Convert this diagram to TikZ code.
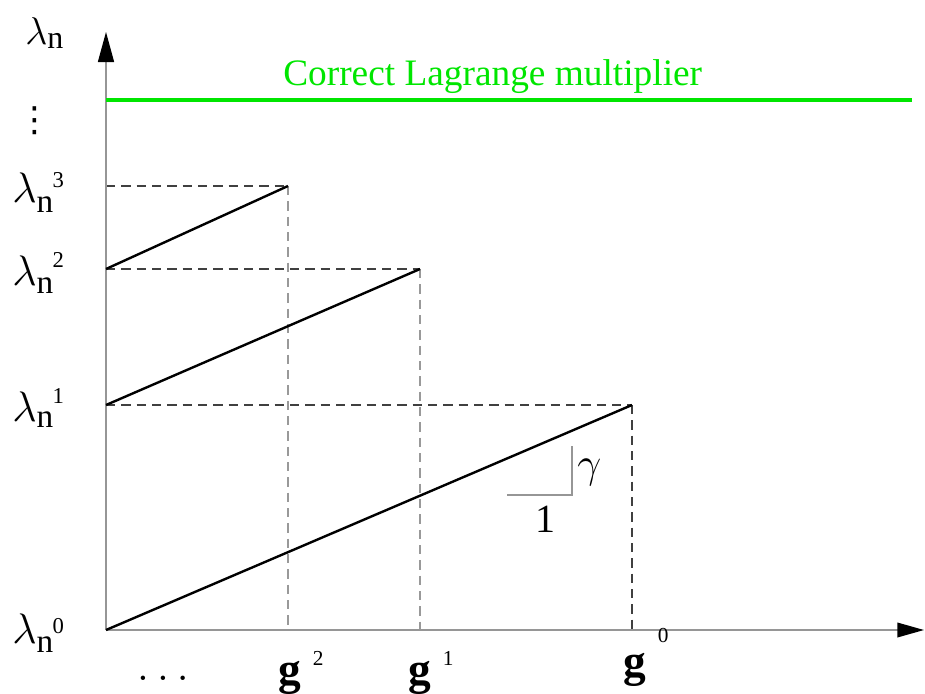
\RequirePackage{fix-cm}
\documentclass[tikz,border=0pt]{standalone}
\usepackage{fontspec}
\setmainfont{Liberation Serif}
\newfontfamily\dejavu{DejaVu Sans}
\usetikzlibrary{arrows.meta}
\definecolor{lgreen}{RGB}{0,230,0}
\definecolor{axisgray}{RGB}{150,150,150}
\newcommand{\lamlab}[3]{{\fontsize{32}{32}\selectfont$\lambda$}\raisebox{#2}{\fontsize{25}{25}\selectfont n}\kern-0.5pt\raisebox{#3}{\fontsize{17}{17}\selectfont #1}}
\newcommand{\glab}[2]{{\fontsize{34}{34}\selectfont\bfseries g}\kern 9pt\raisebox{#2}{\fontsize{16}{16}\selectfont #1}}
\tikzset{
  solidln/.style={line width=1.8pt, black},
  dashdark/.style={dash pattern=on 7pt off 4.5pt, line width=1.2pt, black!75},
  dashlight/.style={dash pattern=on 7pt off 4.5pt, line width=1.1pt, black!40},
  axisln/.style={line width=1.1pt, axisgray},
  lab/.style={inner sep=0pt, anchor=base west},
}
\begin{document}
\begin{tikzpicture}[x=0.75pt,y=-0.75pt]
\useasboundingbox (0,0) rectangle (925,693);
% coordinates
\coordinate (O) at (106,630);
\coordinate (ytip) at (106,32);
\coordinate (xtip) at (924,630);
\coordinate (L0) at (106,630);
\coordinate (L1) at (106,405);
\coordinate (L2) at (106,269);
\coordinate (L3) at (106,186);
\coordinate (G0) at (632,630);
\coordinate (G1) at (420,630);
\coordinate (G2) at (288,630);
\coordinate (P0) at (632,405);
\coordinate (P1) at (420,269);
\coordinate (P2) at (288,186);
\coordinate (GL1) at (106,100);
\coordinate (GL2) at (912,100);
\coordinate (T1) at (507,495);
\coordinate (T2) at (572,495);
\coordinate (T3) at (572,446);
% dashed guides
\draw[dashdark] (L1) -- (P0);
\draw[dashdark] (P0) -- (G0);
\draw[dashdark] (L2) -- (P1);
\draw[dashlight] (P1) -- (G1);
\draw[dashdark] (L3) -- (P2);
\draw[dashlight] (P2) -- (G2);
% axes
\draw[axisln, -{Triangle[length=22.5pt,width=12pt,color=black]}] (O) -- (ytip);
\draw[axisln, -{Triangle[length=20pt,width=11pt,color=black]}] (O) -- (xtip);
% green line
\draw[line width=3pt, lgreen] (GL1) -- (GL2);
% solid lines
\draw[solidln] (L0) -- (P0);
\draw[solidln] (L1) -- (P1);
\draw[solidln] (L2) -- (P2);
% slope triangle
\draw[axisln] (T1) -- (T2) -- (T3);
% labels
\node[lab, text=lgreen, font=\fontsize{28}{30}\selectfont] (ctext) at (283,85) {Correct Lagrange multiplier};
\node[lab] (lamtop) at (25,44) {{\fontsize{29}{30}\selectfont$\lambda$}\raisebox{-3pt}{\fontsize{24}{24}\selectfont n}};
\node[inner sep=0pt] (vd) at (35,121) {\fontsize{26}{26}\selectfont\dejavu ⋮};
\node[lab] (lam3) at (12,202) {\lamlab{3}{-7.5pt}{11pt}};
\node[lab] (lam2) at (12,285) {\lamlab{2}{-6pt}{13pt}};
\node[lab] (lam1) at (12,421) {\lamlab{1}{-5pt}{13pt}};
\node[lab] (lam0) at (12,643) {\lamlab{0}{-7pt}{7.5pt}};
\node[lab] (g2) at (278,684) {\glab{2}{14pt}};
\node[lab] (g1) at (408,684) {\glab{1}{14pt}};
\node[lab] (g0) at (623,676) {\glab{0}{25pt}};
\node[inner sep=0pt] (dots) at (163,678) {\fontsize{34}{34}\selectfont$\ldots$};
\node[lab] (gam) at (577,477) {\fontsize{32}{32}\selectfont$\gamma$};
\node[lab] (one) at (535,532) {\fontsize{30}{30}\selectfont 1};
\end{tikzpicture}
\end{document}
